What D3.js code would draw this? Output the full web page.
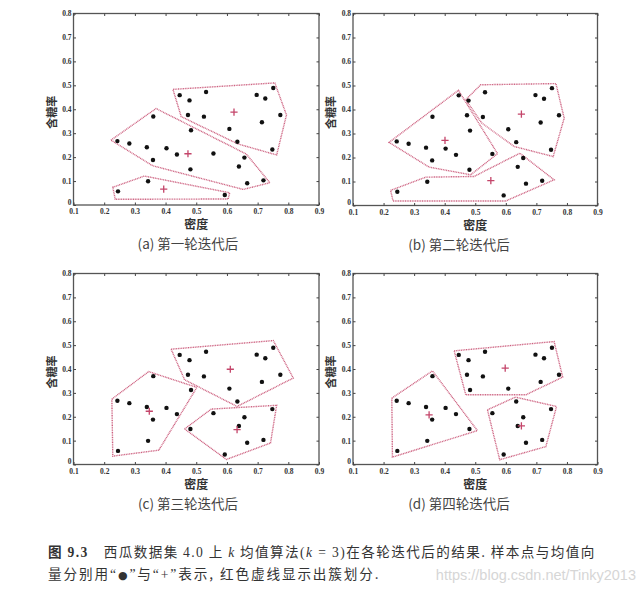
<!DOCTYPE html>
<html>
<head>
<meta charset="utf-8">
<script src="https://cdn.jsdelivr.net/npm/d3@7"></script>
<style>
  body { margin: 0; background: #fff; }
  svg { display: block; }
</style>
</head>
<body>
<svg id="chart" width="644" height="589"></svg>
<script>
// 西瓜数据集 4.0 (密度, 含糖率)
const density = [0.697, 0.774, 0.634, 0.608, 0.556, 0.403, 0.481, 0.437, 0.666, 0.243,
                 0.245, 0.343, 0.639, 0.657, 0.360, 0.593, 0.719, 0.359, 0.339, 0.282,
                 0.748, 0.714, 0.483, 0.478, 0.525, 0.751, 0.532, 0.473, 0.725, 0.446];
const sugar = [0.460, 0.376, 0.264, 0.318, 0.215, 0.237, 0.149, 0.211, 0.091, 0.267,
               0.057, 0.099, 0.161, 0.198, 0.370, 0.042, 0.103, 0.188, 0.241, 0.257,
               0.232, 0.346, 0.312, 0.437, 0.369, 0.489, 0.472, 0.376, 0.445, 0.459];

const xTicks = [0.1, 0.2, 0.3, 0.4, 0.5, 0.6, 0.7, 0.8, 0.9];
const yTicks = [0, 0.1, 0.2, 0.3, 0.4, 0.5, 0.6, 0.7, 0.8];

const captions = ["(a) 第一轮迭代后", "(b) 第二轮迭代后", "(c) 第三轮迭代后", "(d) 第四轮迭代后"];

// mean vectors after each round
const means = [
  [[0.623, 0.388], [0.473, 0.214], [0.394, 0.066]],
  [[0.401, 0.271], [0.651, 0.381], [0.551, 0.104]],
  [[0.347, 0.223], [0.611, 0.399], [0.633, 0.146]],
  [[0.349, 0.208], [0.598, 0.404], [0.651, 0.162]]
];

// hand-drawn cluster outlines (data units)
const hulls = [
  [
    [[0.424, 0.483], [0.756, 0.510], [0.794, 0.376], [0.762, 0.209], [0.636, 0.255], [0.451, 0.369]],
    [[0.222, 0.271], [0.369, 0.403], [0.663, 0.213], [0.740, 0.093], [0.653, 0.065], [0.358, 0.164]],
    [[0.228, 0.074], [0.331, 0.121], [0.609, 0.051], [0.604, 0.025], [0.236, 0.024]]
  ],
  [
    [[0.218, 0.263], [0.445, 0.480], [0.573, 0.216], [0.485, 0.128], [0.349, 0.160]],
    [[0.469, 0.441], [0.518, 0.503], [0.764, 0.508], [0.791, 0.364], [0.755, 0.204], [0.627, 0.246], [0.521, 0.344]],
    [[0.223, 0.063], [0.338, 0.118], [0.496, 0.121], [0.646, 0.218], [0.758, 0.107], [0.600, 0.019], [0.231, 0.019]]
  ],
  [
    [[0.225, 0.274], [0.345, 0.389], [0.502, 0.323], [0.378, 0.060], [0.228, 0.035]],
    [[0.418, 0.483], [0.751, 0.519], [0.816, 0.362], [0.633, 0.243], [0.462, 0.355]],
    [[0.462, 0.149], [0.549, 0.232], [0.762, 0.248], [0.742, 0.090], [0.598, 0.021]]
  ],
  [
    [[0.227, 0.278], [0.360, 0.392], [0.507, 0.142], [0.229, 0.031]],
    [[0.431, 0.476], [0.758, 0.515], [0.786, 0.366], [0.666, 0.292], [0.469, 0.292]],
    [[0.540, 0.229], [0.631, 0.282], [0.766, 0.243], [0.731, 0.075], [0.580, 0.020]]
  ]
];

const panels = [
  { x0: 73.5, x1: 319, y0: 13.5, y1: 205, cx: 188 },
  { x0: 353, x1: 597.5, y0: 13.5, y1: 205.5, cx: 459 },
  { x0: 73.5, x1: 319, y0: 273.5, y1: 464.5, cx: 188 },
  { x0: 353, x1: 597.5, y0: 273.5, y1: 464.5, cx: 459 }
];

const svg = d3.select("#chart");
const serif = "'Liberation Serif', 'DejaVu Serif', serif";
const cjk = "'Noto Sans CJK SC', sans-serif";
const red = "#c4456a";

panels.forEach((p, i) => {
  const x = d3.scaleLinear().domain([0.1, 0.9]).range([p.x0, p.x1]);
  const y = d3.scaleLinear().domain([0, 0.8]).range([p.y1, p.y0]);
  const g = svg.append("g");

  // frame
  g.append("rect")
    .attr("x", p.x0).attr("y", p.y0)
    .attr("width", p.x1 - p.x0).attr("height", p.y1 - p.y0)
    .attr("fill", "none").attr("stroke", "#555").attr("stroke-width", 1.3);

  // ticks, inside, all four sides
  const ax = d3.axisBottom(x).tickValues(xTicks).tickSize(-2.5).tickPadding(4)
    .tickFormat(d => d3.format(".1f")(d));
  const ay = d3.axisLeft(y).tickValues(yTicks).tickSize(-2.5).tickPadding(2)
    .tickFormat(d => d === 0 ? "0" : d3.format(".1f")(d));

  g.append("g").attr("transform", `translate(0,${p.y1})`).call(ax);
  const gy = g.append("g").attr("transform", `translate(${p.x0},0)`).call(ay);
  g.append("g").attr("transform", `translate(0,${p.y0})`)
    .call(d3.axisTop(x).tickValues(xTicks).tickSize(-2.5).tickFormat(""));
  g.append("g").attr("transform", `translate(${p.x1},0)`)
    .call(d3.axisRight(y).tickValues(yTicks).tickSize(-2.5).tickFormat(""));

  g.selectAll(".domain").remove();
  g.selectAll(".tick line").attr("stroke", "#444").attr("stroke-width", 1);
  g.selectAll(".tick text")
    .attr("font-family", serif).attr("font-weight", "bold")
    .attr("font-size", "7.5px").attr("fill", "#333");
  // lift the "0" a little so it clears the 0.1 below it
  gy.selectAll(".tick text").filter(d => d === 0).attr("dy", "-0.1em");

  // cluster outlines
  g.append("g").selectAll("polygon")
    .data(hulls[i])
    .join("polygon")
    .attr("points", d => d.map(v => [x(v[0]), y(v[1])].join(",")).join(" "))
    .attr("fill", "none")
    .attr("stroke", red)
    .attr("stroke-width", 1.4)
    .attr("stroke-dasharray", "1,0.7")
    .attr("stroke-opacity", 0.85);

  // samples
  g.append("g").selectAll("circle")
    .data(d3.range(density.length))
    .join("circle")
    .attr("cx", k => x(density[k]))
    .attr("cy", k => y(sugar[k]))
    .attr("r", 2.2)
    .attr("fill", "#111");

  // means
  g.append("g").selectAll("path")
    .data(means[i])
    .join("path")
    .attr("transform", d => `translate(${x(d[0])},${y(d[1])})`)
    .attr("d", "M-3.6,0H3.6M0,-3.6V3.6")
    .attr("stroke", red)
    .attr("stroke-width", 1.3);

  // axis labels
  g.append("text")
    .attr("x", (p.x0 + p.x1) / 2).attr("y", p.y1 + 24)
    .attr("text-anchor", "middle")
    .attr("font-family", cjk).attr("font-weight", "bold")
    .attr("font-size", "12px").attr("fill", "#333")
    .text("密度");

  g.append("text")
    .attr("transform", `translate(${p.x0 - 18},${(p.y0 + p.y1) / 2 + 3}) rotate(-90)`)
    .attr("text-anchor", "middle")
    .attr("font-family", cjk).attr("font-weight", "bold")
    .attr("font-size", "11px").attr("fill", "#333")
    .text("含糖率");

  // subcaption
  g.append("text")
    .attr("x", p.cx).attr("y", p.y1 + 44)
    .attr("text-anchor", "middle")
    .attr("font-family", cjk)
    .attr("font-size", "13.5px").attr("fill", "#444")
    .text(captions[i]);
});

// figure caption
const cap = svg.append("text")
  .attr("x", 48).attr("y", 557)
  .attr("font-family", cjk).attr("font-size", "13.6px").attr("fill", "#333")
  .attr("letter-spacing", "1.4px");
cap.append("tspan").attr("font-weight", "bold").text("图 ");
cap.append("tspan").attr("font-weight", "bold").attr("font-family", serif).text("9.3");
cap.append("tspan").text("\u2003西瓜数据集 ");
cap.append("tspan").attr("font-family", serif).text("4.0");
cap.append("tspan").text(" 上 ");
cap.append("tspan").attr("font-family", serif).attr("font-style", "italic").text("k");
cap.append("tspan").text(" 均值算法");
cap.append("tspan").attr("font-family", serif).text("(");
cap.append("tspan").attr("font-family", serif).attr("font-style", "italic").text("k");
cap.append("tspan").attr("font-family", serif).text(" = 3)");
cap.append("tspan").text("在各轮迭代后的结果. 样本点与均值向");

const cap2 = svg.append("text")
  .attr("x", 48).attr("y", 579)
  .attr("font-family", cjk).attr("font-size", "13.6px").attr("fill", "#333")
  .attr("letter-spacing", "1.9px");
cap2.append("tspan").text("量分别用");
cap2.append("tspan").attr("font-family", serif).text("“");
cap2.append("tspan").attr("font-family", "'DejaVu Sans', sans-serif").attr("font-size", "11px").text("●");
cap2.append("tspan").attr("font-family", serif).text("”");
cap2.append("tspan").text("与");
cap2.append("tspan").attr("font-family", serif).text("“+”");
cap2.append("tspan").text("表示, 红色虚线显示出簇划分.");

// watermark
svg.append("text")
  .attr("x", 636).attr("y", 580)
  .attr("text-anchor", "end")
  .attr("font-family", "'Liberation Sans', Arial, sans-serif")
  .attr("font-size", "14.5px").attr("fill", "#d6d6d6")
  .text("https://blog.csdn.net/Tinky2013");
</script>
</body>
</html>
